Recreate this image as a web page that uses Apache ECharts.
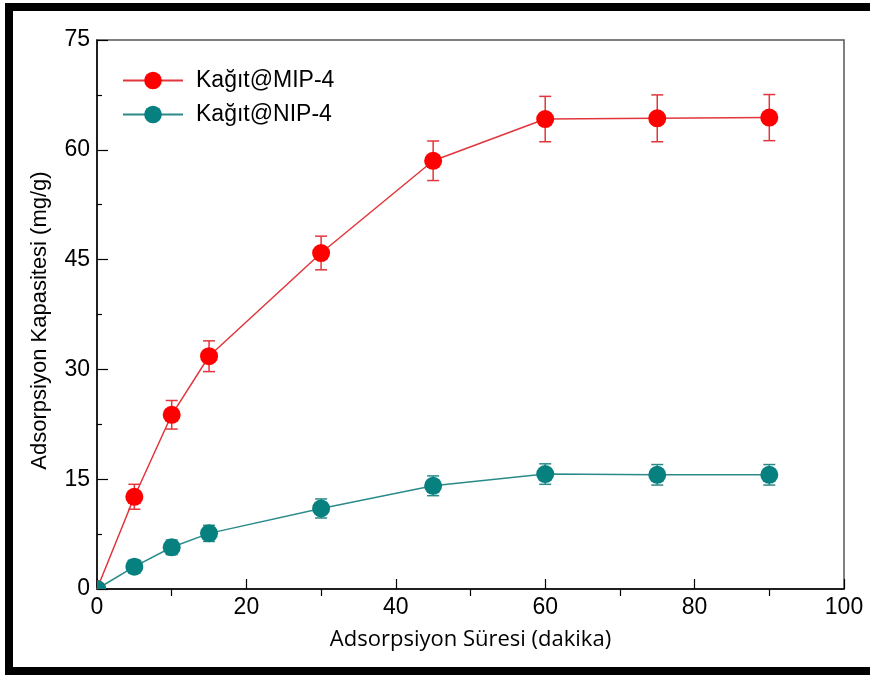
<!DOCTYPE html>
<html>
<head>
<meta charset="utf-8">
<script src="https://cdn.jsdelivr.net/npm/echarts@6/dist/echarts.min.js"></script>
<style>
html,body{margin:0;padding:0;background:#fff;overflow:hidden;}
#chart{width:870px;height:675px;}
</style>
</head>
<body>
<div id="chart"></div>
<script>
// ---- data ----
var times = [0, 5, 10, 15, 30, 45, 60, 75, 90];
var mipMean = [0, 12.6, 23.8, 31.8, 45.9, 58.5, 64.2, 64.3, 64.4];
var mipErr  = [0, 1.7, 1.95, 2.1, 2.3, 2.7, 3.1, 3.2, 3.15];
var nipMean = [0, 3.05, 5.7, 7.6, 11.0, 14.1, 15.7, 15.6, 15.6];
var nipErr  = [0, 0.9, 1.0, 1.1, 1.3, 1.35, 1.4, 1.4, 1.4];
var seriesNames = ['Kağıt@MIP-4', 'Kağıt@NIP-4'];
var xTicks = [0, 20, 40, 60, 80, 100];
var xMinorTicks = [10, 30, 50, 70, 90];
var xName = 'Adsorpsiyon Süresi (dakika)';
var yName = 'Adsorpsiyon Kapasitesi (mg/g)';

var RED = '#ff0000', RED_LINE = '#e2363c';
var TEAL = '#078080', TEAL_LINE = '#2a8a8a';

function pairs(xs, ys) { return xs.map(function (x, i) { return [x, ys[i]]; }); }
function triples(xs, ys, es) { return xs.map(function (x, i) { return [x, ys[i], es[i]]; }); }

function makeMarkerRender(color, barColor) {
  return function (params, api) {
    var x = api.value(0), y = api.value(1), e = api.value(2);
    var c = api.coord([x, y]);
    var children = [];
    if (e > 0) {
      var top = api.coord([x, y + e]);
      var bot = api.coord([x, y - e]);
      var st = { stroke: barColor, lineWidth: 1.5 };
      children.push({ type: 'line', shape: { x1: c[0], y1: top[1], x2: c[0], y2: bot[1] }, style: st });
      children.push({ type: 'line', shape: { x1: c[0] - 6, y1: top[1], x2: c[0] + 6, y2: top[1] }, style: st });
      children.push({ type: 'line', shape: { x1: c[0] - 6, y1: bot[1], x2: c[0] + 6, y2: bot[1] }, style: st });
    }
    children.push({ type: 'circle', shape: { cx: c[0], cy: c[1], r: 9 }, style: { fill: color } });
    return { type: 'group', children: children };
  };
}

var chart = echarts.init(document.getElementById('chart'), null, { renderer: 'canvas' });

var axisFont = { fontFamily: 'Liberation Sans, Arial, sans-serif', fontSize: 23, color: '#000' };
var frameStyle = { stroke: '#000', lineWidth: 8 };

var option = {
  animation: false,
  backgroundColor: '#fff',
  grid: { left: 97, right: 26, top: 40, bottom: 86, show: true, borderColor: '#555', borderWidth: 1.5 },
  legend: {
    left: 117, top: 64, orient: 'vertical',
    itemWidth: 60, itemHeight: 22, itemGap: 11,
    data: seriesNames,
    textStyle: { fontFamily: 'Liberation Sans, Arial, sans-serif', fontSize: 23, color: '#000', padding: [0, 0, 0, 8] }
  },
  xAxis: [{
    type: 'value', min: 0, max: 100, interval: 20, position: 'bottom',
    name: xName, nameLocation: 'middle', nameGap: 40,
    nameTextStyle: { fontFamily: 'Open Sans, Noto Sans, sans-serif', fontSize: 22, color: '#000' },
    axisLine: { show: true, lineStyle: { color: '#000', width: 1.5 } },
    axisTick: { show: true, inside: true, length: 10, lineStyle: { color: '#000', width: 1.2 }, customValues: xTicks },
    axisLabel: Object.assign({ margin: 7, customValues: xTicks }, axisFont),
    splitLine: { show: false }
  }, {
    type: 'value', min: 0, max: 100, position: 'bottom', gridIndex: 0,
    axisLine: { show: false },
    axisTick: { show: true, inside: false, length: 7, lineStyle: { color: '#000', width: 1.2 }, customValues: xMinorTicks },
    axisLabel: { show: false },
    splitLine: { show: false }
  }],
  yAxis: [{
    type: 'value', min: 0, max: 75, interval: 15,
    name: yName, nameLocation: 'middle', nameGap: 46, nameRotate: 90,
    nameTextStyle: { fontFamily: 'Liberation Sans, Arial, sans-serif', fontSize: 22, color: '#000', padding: [0, 12, 0, 0] },
    axisLine: { show: true, lineStyle: { color: '#000', width: 1.5 } },
    axisTick: { show: true, inside: true, length: 11, lineStyle: { color: '#000', width: 1.2 } },
    minorTick: { show: true, splitNumber: 2, length: 5, lineStyle: { color: '#000', width: 1.2 } },
    axisLabel: Object.assign({ margin: 7 }, axisFont),
    splitLine: { show: false }
  }],
  series: [{
    name: seriesNames[0], type: 'line', data: pairs(times, mipMean),
    showSymbol: false, symbol: 'circle', symbolSize: 18,
    lineStyle: { color: RED_LINE, width: 1.5 }, itemStyle: { color: RED },
    z: 2
  }, {
    name: seriesNames[1], type: 'line', data: pairs(times, nipMean),
    showSymbol: false, symbol: 'circle', symbolSize: 18,
    lineStyle: { color: TEAL_LINE, width: 1.5 }, itemStyle: { color: TEAL },
    z: 2
  }, {
    name: seriesNames[0], type: 'custom', clip: true, z: 3,
    renderItem: makeMarkerRender(RED, RED_LINE),
    data: triples(times, mipMean, mipErr)
  }, {
    name: seriesNames[1], type: 'custom', clip: true, z: 4,
    renderItem: makeMarkerRender(TEAL, TEAL_LINE),
    data: triples(times, nipMean, nipErr)
  }],
  graphic: [
    { type: 'line', silent: true, z: 100, shape: { x1: 9, y1: 3, x2: 9, y2: 675 }, style: frameStyle },
    { type: 'line', silent: true, z: 100, shape: { x1: 5, y1: 7, x2: 880, y2: 7 }, style: frameStyle },
    { type: 'line', silent: true, z: 100, shape: { x1: 5, y1: 671, x2: 880, y2: 671 }, style: frameStyle }
  ]
};
chart.setOption(option);
</script>
</body>
</html>
